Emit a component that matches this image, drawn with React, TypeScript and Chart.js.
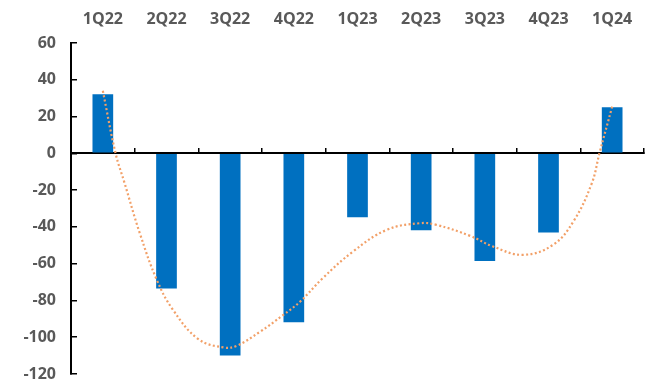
import React, { useEffect, useRef } from 'react';
import { Chart, registerables } from 'chart.js';

Chart.register(...registerables);

const quarters = ['1Q22', '2Q22', '3Q22', '4Q22', '1Q23', '2Q23', '3Q23', '4Q23', '1Q24'];
const values = [32.1, -73.5, -110, -91.8, -34.7, -41.8, -58.5, -43.1, 25];

// Trend line (x = category index, y = value)
const trendX = [0, 0.2, 0.34, 0.58, 0.85, 1.1, 1.5, 1.9, 2.1, 2.47, 2.83, 3.1, 3.45, 3.93, 4.46, 4.98, 5.24, 5.77, 6.13, 6.6, 7.07, 7.39, 7.68, 7.8, 8];
const trendY = [34, 0, -16, -43.4, -69, -85, -101, -105.6, -104.7, -97, -88, -80.6, -68, -53.4, -41.6, -38, -38.9, -44.9, -50.7, -55.2, -49.8, -37.1, -16.3, 0, 25.4];

const yMin = -120;
const yMax = 60;
const yStep = 20;

const textColor = '#595959';
const fontFamily = "'Open Sans', 'DejaVu Sans', sans-serif";

export default function App() {
  const ref = useRef<HTMLCanvasElement | null>(null);

  useEffect(() => {
    if (!ref.current) return;
    const font = { family: fontFamily, size: 16, weight: 'bold' as const };
    const chart = new Chart(ref.current, {
      type: 'bar',
      data: {
        labels: quarters,
        datasets: [
          {
            type: 'line',
            data: trendX.map((x, i) => ({ x, y: trendY[i] })),
            xAxisID: 'xl',
            yAxisID: 'y',
            borderColor: '#F2A068',
            borderWidth: 2.2,
            borderDash: [2, 2.4],
            borderCapStyle: 'butt',
            pointRadius: 0,
            tension: 0.4,
            fill: false,
            order: 0,
          } as any,
          {
            type: 'bar',
            data: values,
            xAxisID: 'x',
            yAxisID: 'y',
            backgroundColor: '#0070C0',
            barPercentage: 1,
            categoryPercentage: 0.325,
            grouped: false,
            order: 1,
          },
        ],
      },
      options: {
        responsive: false,
        animation: false,
        devicePixelRatio: 1,
        layout: { padding: { left: 8, right: 7, top: 0, bottom: 9 } },
        plugins: { legend: { display: false }, tooltip: { enabled: false } },
        scales: {
          x: {
            type: 'category',
            position: 'top',
            offset: true,
            grid: { display: false },
            border: { display: false },
            ticks: { color: textColor, font, padding: 6, maxRotation: 0, autoSkip: false },
            afterFit: (s: any) => { s.height = 43; },
          },
          xz: {
            type: 'category',
            axis: 'x',
            labels: quarters,
            position: { y: 0 } as any,
            offset: true,
            grid: {
              offset: true,
              drawOnChartArea: false,
              drawTicks: true,
              tickLength: -6,
              color: '#000',
              lineWidth: 1.5,
            },
            border: { display: true, color: '#000', width: 2 },
            ticks: { display: false },
            afterFit: (s: any) => { s.height = 0; },
          },
          xl: {
            type: 'linear',
            axis: 'x',
            display: false,
            offset: false,
            min: -0.5,
            max: 8.5,
          },
          y: {
            min: yMin,
            max: yMax,
            ticks: { stepSize: yStep, color: textColor, font, padding: 21 },
            grid: {
              drawOnChartArea: false,
              drawTicks: true,
              tickLength: -6,
              color: '#000',
              lineWidth: 1.5,
            },
            border: { color: '#000', width: 2 },
            afterFit: (s: any) => {
              s.width = 63;
              s.paddingTop = 0;
              s.paddingBottom = 0;
            },
          },
        },
      },
    });
    return () => chart.destroy();
  }, []);

  return (
    <div style={{ position: 'fixed', left: 0, top: 0, width: 651, height: 383, background: '#fff' }}>
      <canvas ref={ref} width={651} height={383} style={{ width: 651, height: 383, display: 'block' }} />
    </div>
  );
}
